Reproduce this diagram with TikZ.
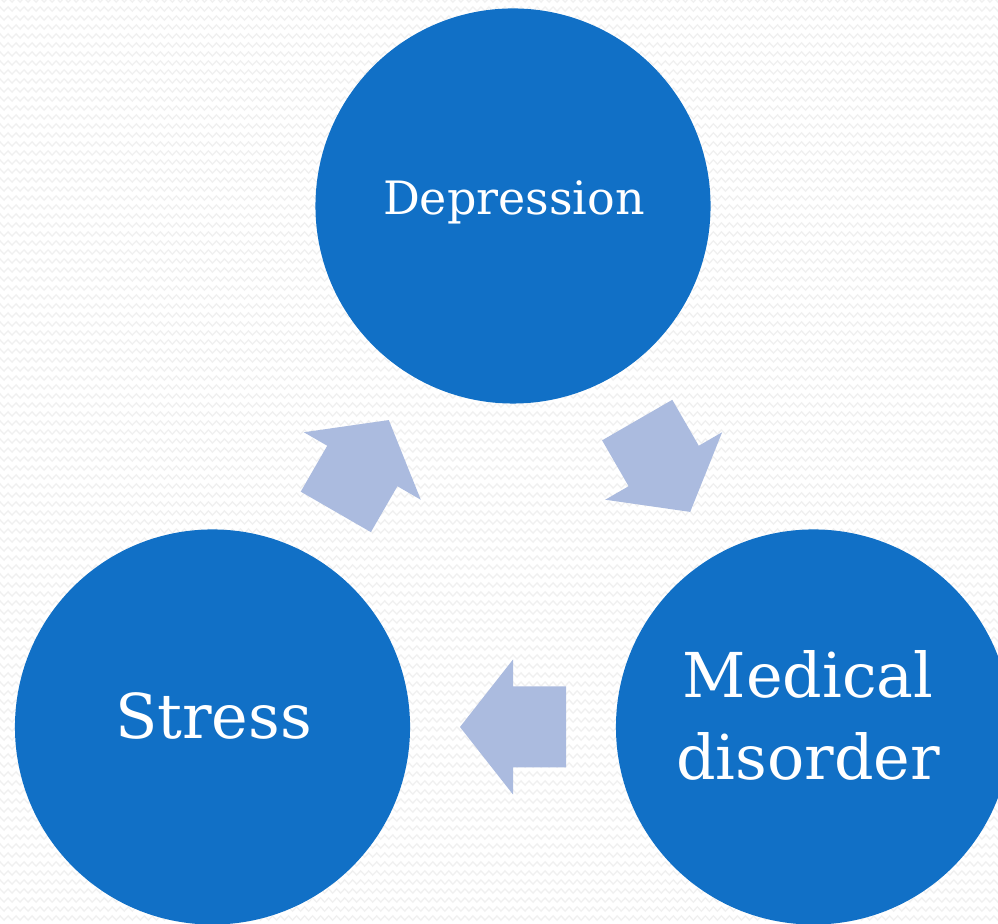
\documentclass[tikz,border=0pt]{standalone}
\usepackage{fontspec}
\setmainfont{DejaVu Serif}
\usetikzlibrary{decorations.pathmorphing}
\definecolor{stageblue}{HTML}{1170C6}
\definecolor{arrowblue}{HTML}{ABBBDF}
\definecolor{zigzaggray}{HTML}{F0F0F0}
\def\arrowdist{174}

\begin{document}
\begin{tikzpicture}[x=0.025cm, y=0.025cm]
    \tikzstyle{stage}=[circle, fill=stageblue, minimum size=9.875cm, inner sep=0pt]
    \tikzstyle{stage text}=[text=white, anchor=base, inner sep=0pt, align=center]
    \tikzstyle{small text}=[stage text, font=\fontsize{32.7}{40}\selectfont]
    \tikzstyle{big text}=[stage text, font=\fontsize{44}{59}\selectfont]
    \tikzstyle{flow arrow}=[fill=arrowblue]
    \tikzstyle{zig}=[draw=zigzaggray, line width=0.9pt, decorate,
        decoration={zigzag, segment length=5.7pt, amplitude=1.5pt}]

    \useasboundingbox (0,0) rectangle (998,924);

    % Draw the background pattern
    \fill[white] (0,0) rectangle (998,924);
    \foreach \y in {0,...,103}
        \path[zig] (-10,924-\y*9) -- (1010,924-\y*9);

    % Draw the three stages
    \node[stage] (dep) at (513,718) {};
    \node[stage] (stress) at (212.5,197) {};
    \node[stage] (med) at (813.5,197) {};
    \coordinate (mid) at (513,371);

    % Label the stages
    \node[small text] (dep-label) at (514,709) {Depression};
    \node[big text] (stress-label) at (213.5,185) {Stress};
    \node[big text] (med-label) at (808,144) {Medical\\disorder};

    % Draw the arrows between the stages
    \foreach \pos in {30,150,270}
        \fill[flow arrow, shift={(mid)}, rotate=\pos-90, shift={(0,\arrowdist)}]
            (-53,-40.5) -- (0,-40.5) -- (0,-67.5) -- (53,0)
            -- (0,67.5) -- (0,40.5) -- (-53,40.5) -- cycle;
\end{tikzpicture}
\end{document}
